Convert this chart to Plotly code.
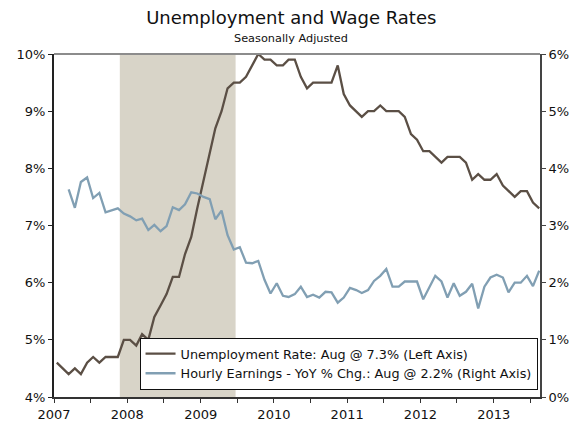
import pandas as pd
import plotly.graph_objects as go

# ---- data ----
start_month = "2007-01-01"
n_months = 80
unemployment = [
    4.6, 4.5, 4.4, 4.5, 4.4, 4.6, 4.7, 4.6, 4.7, 4.7, 4.7, 5.0,
    5.0, 4.9, 5.1, 5.0, 5.4, 5.6, 5.8, 6.1, 6.1, 6.5, 6.8, 7.3,
    7.8, 8.3, 8.7, 9.0, 9.4, 9.5, 9.5, 9.6, 9.8, 10.0, 9.9, 9.9,
    9.8, 9.8, 9.9, 9.9, 9.6, 9.4, 9.5, 9.5, 9.5, 9.5, 9.8, 9.3,
    9.1, 9.0, 8.9, 9.0, 9.0, 9.1, 9.0, 9.0, 9.0, 8.9, 8.6, 8.5,
    8.3, 8.3, 8.2, 8.1, 8.2, 8.2, 8.2, 8.1, 7.8, 7.9, 7.8, 7.8,
    7.9, 7.7, 7.6, 7.5, 7.6, 7.6, 7.4, 7.3,
]
hourly_earnings = [
    None, None, 3.63, 3.31, 3.76, 3.84, 3.48, 3.57, 3.23, 3.27, 3.30, 3.21,
    3.16, 3.09, 3.12, 2.92, 3.01, 2.90, 2.99, 3.32, 3.27, 3.37, 3.58, 3.56,
    3.50, 3.46, 3.11, 3.26, 2.83, 2.58, 2.62, 2.35, 2.34, 2.38, 2.05, 1.81,
    1.99, 1.77, 1.75, 1.80, 1.93, 1.75, 1.79, 1.74, 1.84, 1.83, 1.65, 1.74,
    1.91, 1.87, 1.82, 1.87, 2.03, 2.12, 2.24, 1.93, 1.93, 2.02, 2.02, 2.02,
    1.71, 1.92, 2.12, 2.02, 1.74, 1.99, 1.77, 1.84, 1.98, 1.55, 1.93, 2.09,
    2.14, 2.09, 1.83, 2.00, 2.00, 2.12, 1.94, 2.21,
]
recession_start = "2007-11-25"
recession_end = "2009-06-24"
x_range = ["2007-01-01", "2013-08-19"]
year_ticks = pd.date_range("2007-01-01", "2013-07-01", freq="6MS")
year_tick_text = [str(d.year) if d.month == 1 else "" for d in year_ticks]
left_ticks = [4, 5, 6, 7, 8, 9, 10]
right_ticks = [0, 1, 2, 3, 4, 5, 6]
unemp_name = "Unemployment Rate: Aug @ 7.3% (Left Axis)"
wage_name = "Hourly Earnings - YoY % Chg.: Aug @ 2.2% (Right Axis)"

months = pd.date_range(start_month, periods=n_months, freq="MS") + pd.Timedelta(days=14)

BROWN = "#5b4f45"
BLUE = "#819fb3"
SHADE = "#d8d4c8"
FONT = "DejaVu Sans, Verdana, sans-serif"

fig = go.Figure()
fig.add_trace(go.Scatter(x=months, y=hourly_earnings, name=wage_name, mode="lines",
                         line=dict(color=BLUE, width=2.3), yaxis="y2", legendrank=2,
                         connectgaps=False))
fig.add_trace(go.Scatter(x=months, y=unemployment, name=unemp_name, mode="lines",
                         line=dict(color=BROWN, width=2.3), yaxis="y", legendrank=1))

fig.add_vrect(x0=recession_start, x1=recession_end, fillcolor=SHADE, opacity=1,
              line_width=0, layer="below")
# top border
fig.add_shape(type="line", xref="paper", yref="paper", x0=0, x1=1, y0=1, y1=1,
              line=dict(color="#8c8c8c", width=2))

tickfont = dict(family=FONT, size=13, color="#111")
fig.update_layout(
    width=586, height=423,
    margin=dict(l=54, r=46, t=54, b=26, autoexpand=False),
    paper_bgcolor="white", plot_bgcolor="white",
    font=dict(family=FONT, color="#111"),
    title=dict(text="Unemployment and Wage Rates", x=0.497, xref="container",
               y=0.957, yref="container", xanchor="center", yanchor="middle",
               font=dict(family=FONT, size=18, color="#111")),
    annotations=[dict(text="Seasonally Adjusted", xref="paper", yref="paper",
                      x=0.488, y=1.0, yshift=16, showarrow=False,
                      xanchor="center", yanchor="middle",
                      font=dict(family=FONT, size=11.3, color="#111"))],
    xaxis=dict(type="date", range=x_range, tickvals=year_ticks, ticktext=year_tick_text,
               ticks="outside", ticklen=4, tickcolor="#333", tickwidth=1,
               showline=True, linecolor="#333", linewidth=2, showgrid=False,
               zeroline=False, tickfont=tickfont, tickangle=0, automargin=False),
    xaxis2=dict(type="date", range=x_range, tickvals=year_ticks, ticktext=[""] * len(year_ticks),
                overlaying="x", ticks="inside", ticklen=3, tickcolor="#333", tickwidth=1,
                showline=False, showgrid=False, zeroline=False, showticklabels=False,
                automargin=False),
    yaxis=dict(range=[4, 10], tickvals=left_ticks,
               ticktext=[f"{v}%" for v in left_ticks], ticks="outside", ticklen=4,
               tickcolor="#222", showline=True, linecolor="#222", linewidth=2,
               showgrid=False, zeroline=False, tickfont=tickfont, automargin=False),
    yaxis2=dict(range=[0, 6], tickvals=right_ticks, overlaying="y", side="right",
                ticktext=[f"{v}%" for v in right_ticks], ticks="outside", ticklen=4,
                tickcolor="#444", showline=True, linecolor="#444", linewidth=2,
                showgrid=False, zeroline=False, tickfont=tickfont, automargin=False),
    yaxis3=dict(range=[4, 10], tickvals=left_ticks, overlaying="y", side="left",
                ticks="inside", ticklen=3, tickcolor="#222", showline=False,
                showgrid=False, zeroline=False, showticklabels=False, automargin=False),
    yaxis4=dict(range=[0, 6], tickvals=right_ticks, overlaying="y", side="right",
                ticks="inside", ticklen=3, tickcolor="#444", showline=False,
                showgrid=False, zeroline=False, showticklabels=False, automargin=False),
    showlegend=True,
    legend=dict(x=0.176, y=0.021, xanchor="left", yanchor="bottom",
                bgcolor="white", bordercolor="#111", borderwidth=1,
                font=dict(family=FONT, size=12.8, color="#111"),
                tracegroupgap=0, itemwidth=30),
)

fig.write_html("out.html", config={"displayModeBar": False},
               post_script="document.body.style.margin='0';document.body.style.padding='0';")
